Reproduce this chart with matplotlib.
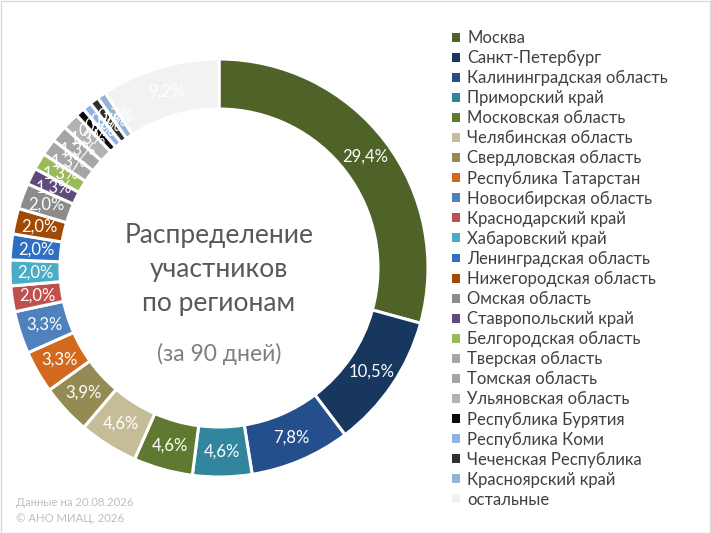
import matplotlib
matplotlib.use('Agg')
from matplotlib import pyplot as plt
from matplotlib.patches import Patch, Rectangle
import numpy as np

regions = ['Москва', 'Санкт-Петербург', 'Калининградская область', 'Приморский край',
           'Московская область', 'Челябинская область', 'Свердловская область',
           'Республика Татарстан', 'Новосибирская область', 'Краснодарский край',
           'Хабаровский край', 'Ленинградская область', 'Нижегородская область',
           'Омская область', 'Ставропольский край', 'Белгородская область',
           'Тверская область', 'Томская область', 'Ульяновская область',
           'Республика Бурятия', 'Республика Коми', 'Чеченская Республика',
           'Красноярский край', 'остальные']
shares = [29.4, 10.5, 7.8, 4.6, 4.6, 4.6, 3.9, 3.3, 3.3, 2.0, 2.0, 2.0, 2.0,
          2.0, 1.3, 1.3, 1.3, 1.3, 1.3, 0.7, 0.7, 0.7, 0.7, 9.2]

colors = ['#4F6228', '#17375E', '#254F8C', '#31859C', '#5F7A30', '#C4BD97',
          '#948A54', '#D2691E', '#4F81BD', '#C0504D', '#4BACC6', '#2E6FC4',
          '#A14A05', '#8C8C8C', '#604A7B', '#9BBB59', '#A6A6A6', '#A6A6A6',
          '#B3B3B3', '#0A0A0A', '#8DB4E2', '#303030', '#95B3D7', '#F2F2F2']

plt.rcParams['font.family'] = ['Lato', 'DejaVu Sans']

W, H = 711, 533
fig = plt.figure(figsize=(W / 100, H / 100), dpi=100)
ax = fig.add_axes([0, 0, 1, 1])

cx, cy, R = 219, H - 268, 209
ring = 50
wedges, _ = ax.pie(shares, colors=colors, startangle=90, counterclock=False,
                   center=(cx, cy), radius=R,
                   wedgeprops=dict(width=ring, edgecolor='white', linewidth=2.2))
ax.set_xlim(0, W)
ax.set_ylim(0, H)
ax.set_aspect('equal')
ax.axis('off')

# подписи долей
rm = R - ring / 2
for w, v in zip(wedges, shares):
    ang = np.deg2rad((w.theta1 + w.theta2) / 2)
    ax.text(cx + rm * np.cos(ang), cy + rm * np.sin(ang),
            ('%.1f%%' % v).replace('.', ','), color='white', fontsize=12,
            ha='center', va='center')

# текст в центре
ax.text(cx, H - 235, 'Распределение', fontsize=19, color='#595959', ha='center', va='center')
ax.text(cx, H - 270, 'участников', fontsize=19, color='#595959', ha='center', va='center')
ax.text(cx, H - 303, 'по регионам', fontsize=19, color='#595959', ha='center', va='center')
ax.text(cx, H - 354, '(за 90 дней)', fontsize=16.5, color='#7F7F7F', ha='center', va='center')

# подвал
ax.text(16, H - 502, 'Данные на 20.08.2026', fontsize=8.2, color='#BFBFBF', va='center')
ax.text(16, H - 518, '© АНО МИАЦ, 2026', fontsize=8.2, color='#BFBFBF', va='center')

handles = [Patch(facecolor=c, edgecolor='none') for c in colors]
leg = fig.legend(handles, regions, loc='upper left', bbox_to_anchor=(452 / W, 1 - 30 / H),
                 frameon=False, fontsize=12, labelcolor='#404040',
                 handlelength=0.45, handleheight=0.45, handletextpad=0.45,
                 labelspacing=0.245, borderaxespad=0, borderpad=0)

fig.patches.append(Rectangle((0.5 / W, 0.5 / H), 1 - 1.5 / W, 1 - 1.5 / H,
                             transform=fig.transFigure, fill=False,
                             edgecolor='#D9D9D9', linewidth=1))

plt.savefig('out.png', dpi=100)
